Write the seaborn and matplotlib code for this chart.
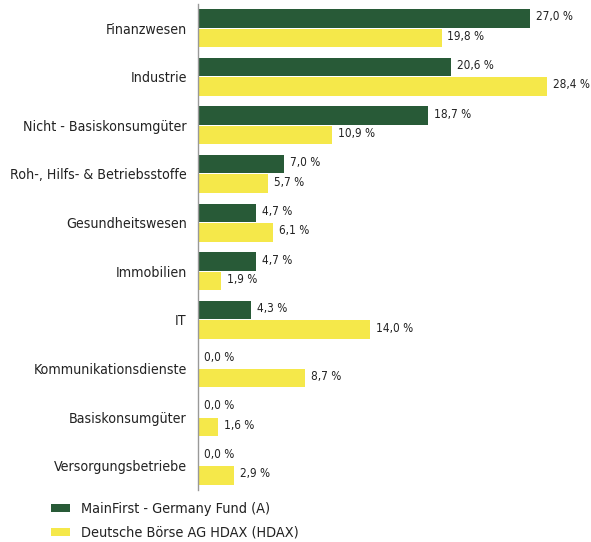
import numpy as np
import pandas as pd
import seaborn as sns
import matplotlib.pyplot as plt

sectors = ["Finanzwesen", "Industrie", "Nicht - Basiskonsumgüter",
           "Roh-, Hilfs- & Betriebsstoffe", "Gesundheitswesen", "Immobilien",
           "IT", "Kommunikationsdienste", "Basiskonsumgüter", "Versorgungsbetriebe"]
fund = [27.0, 20.6, 18.7, 7.0, 4.7, 4.7, 4.3, 0.0, 0.0, 0.0]
index = [19.8, 28.4, 10.9, 5.7, 6.1, 1.9, 14.0, 8.7, 1.6, 2.9]
series = ["MainFirst - Germany Fund (A)", "Deutsche Börse AG HDAX (HDAX)"]
colors = ["#285a37", "#f5e84a"]

df = pd.DataFrame({
    "sector": sectors * 2,
    "value": fund + index,
    "series": [series[0]] * len(sectors) + [series[1]] * len(sectors),
})

sns.set_style("white")
plt.rcParams['font.family'] = ['DejaVu Sans']
plt.rcParams['font.stretch'] = 'condensed'
txt = "#222222"

fig = plt.figure(figsize=(5.91, 5.42), dpi=100)
ax = fig.add_axes([0.335, 0.096, 0.665, 0.897])

sns.barplot(data=df, y="sector", x="value", hue="series", order=sectors,
            hue_order=series, palette=colors, orient="h", width=0.8, gap=0.05,
            linewidth=0, saturation=1, ax=ax)

ax.set_xlim(0, 31.95)
ax.set_ylim(9.5, -0.5)
ax.set_xlabel("")
ax.set_ylabel("")
ax.set_xticks([])
ax.tick_params(axis="y", length=0, labelsize=10.2, labelcolor=txt, pad=8)
for s in ["top", "right", "bottom"]:
    ax.spines[s].set_visible(False)
ax.spines["left"].set_color("#999999")
ax.spines["left"].set_linewidth(1)

for i in range(len(sectors)):
    for j, vals in enumerate([fund, index]):
        v = vals[i]
        y = i - 0.2 + j * 0.4
        ax.text(v + 0.48, y - 0.03, f"{v:.1f} %".replace(".", ","), va="center",
                ha="left", fontsize=8.5, color=txt)

handles, labels = ax.get_legend_handles_labels()
ax.legend(handles, labels, loc="lower left", bbox_to_anchor=(0.064, -0.02),
          bbox_transform=fig.transFigure, frameon=False, fontsize=10.4,
          handlelength=1.3, handleheight=0.5, handletextpad=0.8,
          labelspacing=0.65, labelcolor=txt)

fig.savefig("out.png", dpi=100)
